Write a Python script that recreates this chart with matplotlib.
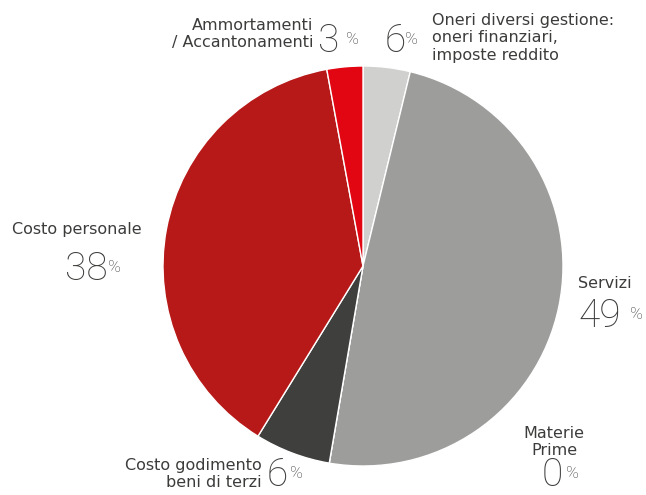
import matplotlib
matplotlib.use("Agg")
import matplotlib.pyplot as plt

# slice order clockwise from 12 o'clock
categories = ["Oneri diversi gestione", "Servizi", "Materie Prime",
              "Costo godimento beni di terzi", "Costo personale",
              "Ammortamenti / Accantonamenti"]
shares = [3.8, 48.9, 0.0, 6.1, 38.3, 2.9]
label_pct = ["6", "49", "0", "6", "38", "3"]
colors = ["#d0d0ce", "#9d9d9c", "#c8c8c8", "#3f3f3e", "#b71918", "#e20613"]

W, H = 646, 495
fig = plt.figure(figsize=(W / 100, H / 100), dpi=100)

# pie centre (363, 266) px, radius 200 px
cx, cy, r = 363, 266, 200
ax = fig.add_axes([(cx - r) / W, (H - cy - r) / H, 2 * r / W, 2 * r / H])
ax.pie(shares, colors=colors, startangle=90, counterclock=False, radius=1,
       wedgeprops=dict(edgecolor="white", linewidth=1.0))
ax.set_xlim(-1, 1)
ax.set_ylim(-1, 1)
ax.axis("off")

tc = "#3c3c3b"
lab_fs = 11.5
num_fs = 28
pct_fs = 12.5


def t(x, y, s, **kw):
    fig.text(x / W, 1 - y / H, s, color=tc, **kw)


def lab(x, y, s, ha):
    # category label, (x, y) = anchor / top in px
    t(x, y, s, fontsize=lab_fs, ha=ha, va="top", family="DejaVu Sans",
      linespacing=1.2, multialignment=ha)


def num(x, y, n, pct_dx):
    # big light number + small % sign, (x, y) = left / baseline in px
    t(x, y, n, fontsize=num_fs, fontweight="light", ha="left", va="baseline",
      family="Roboto")
    t(x + pct_dx, y - 8, "%", fontsize=pct_fs, fontweight="light", ha="left",
      va="baseline", family="Roboto")


lab(313, 18, "Ammortamenti\n/ Accantonamenti", "right")
num(318, 52, label_pct[5], 28)

num(385, 52, label_pct[0], 20)
lab(432, 13, "Oneri diversi gestione:\noneri finanziari,\nimposte reddito", "left")

lab(12, 222, "Costo personale", "left")
num(65, 280, label_pct[4], 43)

lab(578, 276, "Servizi", "left")
num(579, 327, label_pct[1], 51)

lab(554, 426, "Materie\nPrime", "center")
num(542, 486, label_pct[2], 24)

lab(262, 458, "Costo godimento\nbeni di terzi", "right")
num(267, 486, label_pct[3], 23)

fig.savefig("out.png", dpi=100)
